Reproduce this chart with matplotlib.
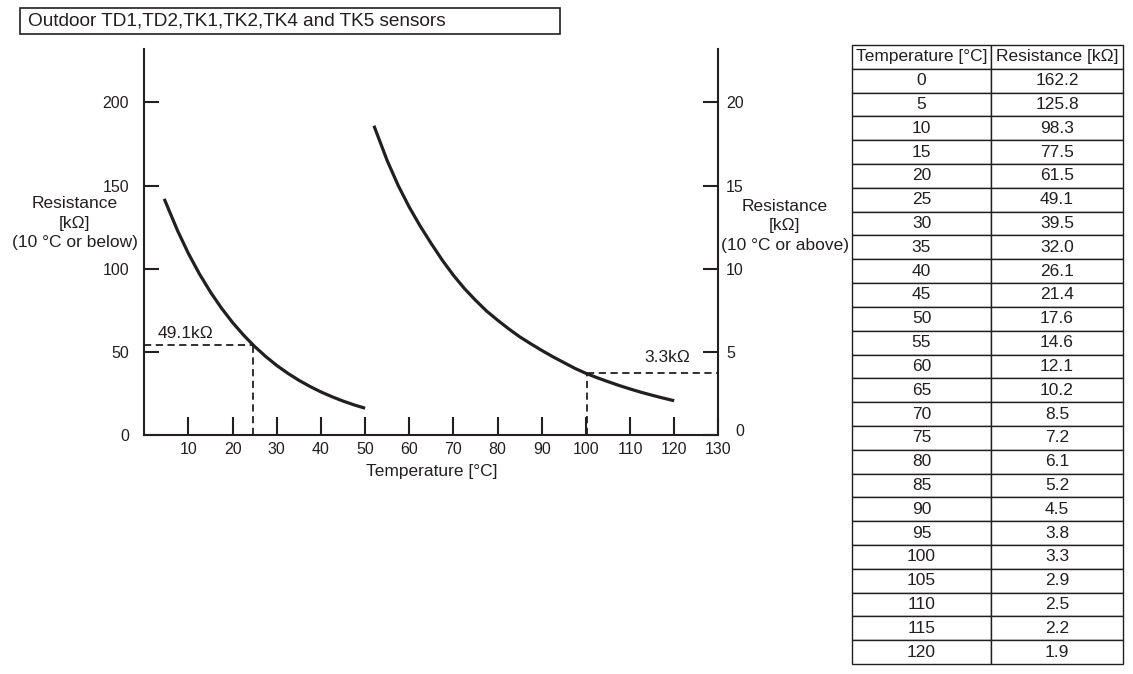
import matplotlib.pyplot as plt
from matplotlib.patches import Rectangle

plt.rcParams['font.family'] = ['Liberation Sans', 'DejaVu Sans']
ink = '#231f20'
fs = 12.5
tfs = 11.5

# table values
table_temp = [0, 5, 10, 15, 20, 25, 30, 35, 40, 45, 50, 55, 60, 65,
              70, 75, 80, 85, 90, 95, 100, 105, 110, 115, 120]
table_res = ['162.2', '125.8', '98.3', '77.5', '61.5', '49.1', '39.5', '32.0',
             '26.1', '21.4', '17.6', '14.6', '12.1', '10.2', '8.5', '7.2',
             '6.1', '5.2', '4.5', '3.8', '3.3', '2.9', '2.5', '2.2', '1.9']

# curve, left scale (10 C or below)
low_temp = [4.5, 7.5, 10, 12.5, 15, 17.5, 20, 22.5, 25, 27.5, 30,
            32.5, 35, 37.5, 40, 42.5, 45, 47.5, 50]
low_res = [142, 123, 109, 96.7, 85.8, 76.1, 67.5, 59.9, 53.1, 47.1, 41.7,
           37.0, 32.8, 29.1, 25.8, 22.9, 20.3, 18.0, 16.0]

# curve, right scale (10 C or above)
high_temp = [52, 55, 57.5, 60, 62.5, 65, 67.5, 70, 72.5, 75, 77.5, 80, 82.5,
             85, 87.5, 90, 92.5, 95, 97.5, 100, 102.5, 105, 107.5, 110,
             112.5, 115, 117.5, 120]
high_res = [18.6, 16.5, 15.0, 13.7, 12.55, 11.5, 10.5, 9.6, 8.8, 8.1, 7.45,
            6.9, 6.38, 5.9, 5.48, 5.08, 4.7, 4.35, 4.0, 3.7, 3.44, 3.2, 2.97,
            2.76, 2.56, 2.38, 2.21, 2.05]

left_ticks = [0, 50, 100, 150, 200]
right_ticks = [0, 5, 10, 15, 20]

mark_low = (24.5, 54.0)
mark_high = (100.2, 3.7)

fig = plt.figure(figsize=(11.33, 6.74), dpi=100)
ax = fig.add_axes([0.1274, 0.3549, 0.5066, 0.572])
ax2 = ax.twinx()

ax.plot(low_temp, low_res, color=ink, lw=2.3, solid_capstyle='butt')
ax2.plot(high_temp, high_res, color=ink, lw=2.3, solid_capstyle='butt')

dash = (0, (4, 2.5))
ax.plot([0, mark_low[0]], [mark_low[1], mark_low[1]], color=ink, lw=1.3, ls=dash)
ax.plot([mark_low[0], mark_low[0]], [0, mark_low[1]], color=ink, lw=1.3, ls=dash)
ax2.plot([mark_high[0], 130], [mark_high[1], mark_high[1]], color=ink, lw=1.3, ls=dash)
ax2.plot([mark_high[0], mark_high[0]], [0, mark_high[1]], color=ink, lw=1.3, ls=dash)
ax.text(3, 56.5, '49.1k\u03a9', fontsize=fs, color=ink, ha='left', va='bottom')
ax2.text(123.6, 4.2, '3.3k\u03a9', fontsize=fs, color=ink, ha='right', va='bottom')

ax.set_xlim(0, 130)
ax.set_ylim(0, 232)
ax2.set_ylim(0, 23.2)
ax.set_xticks(range(10, 131, 10))
ax.set_yticks(left_ticks)
ax2.set_yticks(right_ticks)
# the right-hand 0 sits a little further out, clear of the 130 label
ax2.set_yticklabels([''] + [str(v) for v in right_ticks[1:]])
ax2.annotate(str(right_ticks[0]), xy=(1, right_ticks[0]),
             xycoords=('axes fraction', 'data'), xytext=(12.6, 2.5),
             textcoords='offset points', ha='left', va='center',
             fontsize=tfs, color=ink)

for a in (ax, ax2):
    a.spines['top'].set_visible(False)
    for s in a.spines.values():
        s.set_linewidth(1.5)
        s.set_color(ink)
ax.spines['right'].set_visible(False)
ax2.spines['left'].set_visible(False)
ax2.spines['bottom'].set_visible(False)

ax.tick_params(axis='x', direction='in', length=13, width=1.5, color=ink,
               labelsize=tfs, labelcolor=ink, pad=5)
ax.tick_params(axis='y', direction='in', length=11, width=1.5, color=ink,
               labelsize=tfs, labelcolor=ink, pad=11)
ax2.tick_params(axis='y', direction='in', length=11, width=1.5, color=ink,
                labelsize=tfs, labelcolor=ink, pad=5.5)

ax.set_xlabel('Temperature [\u00b0C]', fontsize=fs, color=ink, labelpad=5)
fig.text(75 / 1133, 1 - 223 / 674, 'Resistance\n[k\u03a9]\n(10 \u00b0C or below)',
         ha='center', va='center', fontsize=fs, color=ink, linespacing=1.38)
fig.text(785 / 1133, 1 - 226 / 674, 'Resistance\n[k\u03a9]\n(10 \u00b0C or above)',
         ha='center', va='center', fontsize=fs, color=ink, linespacing=1.38)

# title box
fig.patches.append(Rectangle((20 / 1133, 1 - 34 / 674), 540 / 1133, 26 / 674,
                             transform=fig.transFigure, fill=False,
                             edgecolor=ink, lw=1.2))
fig.text(28 / 1133, 1 - 21 / 674, 'Outdoor TD1,TD2,TK1,TK2,TK4 and TK5 sensors',
         ha='left', va='center', fontsize=13.7, color=ink)

# resistance table
tax = fig.add_axes([852 / 1133, 1 - 664 / 674, 271 / 1133, 619 / 674])
tax.axis('off')
rows = [[str(t), r] for t, r in zip(table_temp, table_res)]
tbl = tax.table(cellText=rows, colLabels=['Temperature [\u00b0C]', 'Resistance [k\u03a9]'],
                cellLoc='center', bbox=[0, 0, 1, 1], colWidths=[139, 132])
tbl.auto_set_font_size(False)
tbl.set_fontsize(fs)
for cell in tbl.get_celld().values():
    cell.set_edgecolor(ink)
    cell.set_linewidth(1.0)
    cell.get_text().set_color(ink)

fig.savefig('out.png', dpi=100)
